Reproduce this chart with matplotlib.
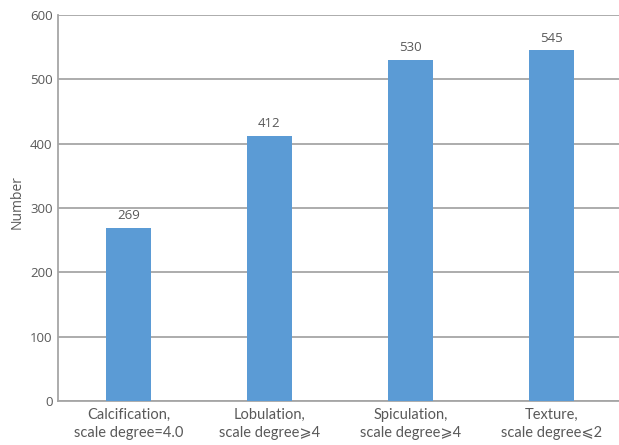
import matplotlib
matplotlib.use("Agg")
import matplotlib.pyplot as plt

categories = ["Calcification,\nscale degree=4.0",
              "Lobulation,\nscale degree\u2a7e4",
              "Spiculation,\nscale degree\u2a7e4",
              "Texture,\nscale degree\u2a7d2"]
counts = [269, 412, 530, 545]
yticks = [0, 100, 200, 300, 400, 500, 600]

W, H = 619, 445
fig = plt.figure(figsize=(W / 100, H / 100), dpi=100)
left, right, top, bottom = 58, 622, 15, 401
ax = fig.add_axes([left / W, (H - bottom) / H, (right - left) / W, (bottom - top) / H])

grid_c = "#a6a6a6"
text_c = "#595959"
fam = ["Lato", "DejaVu Sans"]
num_fam = ["Open Sans", "DejaVu Sans"]

x = list(range(len(categories)))
bars = ax.bar(x, counts, width=0.32, color="#5b9bd5", zorder=3)
ax.set_xlim(-0.5, len(categories) - 0.5)
ax.set_ylim(0, 600)
ax.set_yticks(yticks)
ax.yaxis.grid(True, color=grid_c, linewidth=1.3, zorder=0)

for b, v in zip(bars, counts):
    ax.annotate(str(v), (b.get_x() + b.get_width() / 2, v), xytext=(0, 4),
                textcoords="offset points", ha="center", va="bottom",
                fontsize=9.5, color=text_c, family=num_fam)

for s in ["top", "right"]:
    ax.spines[s].set_visible(False)
for s in ["left", "bottom"]:
    ax.spines[s].set_color(grid_c)
    ax.spines[s].set_linewidth(1.3)

ax.tick_params(axis="both", length=0)
ax.tick_params(axis="y", pad=4)
ax.tick_params(axis="x", pad=5)
ax.set_xticks(x)
ax.set_xticklabels(categories, fontsize=10.5, color=text_c, family=fam, linespacing=1.35)
for t in ax.get_yticklabels():
    t.set_fontsize(9.5)
    t.set_color(text_c)
    t.set_family(num_fam)

fig.text(17 / W, 1 - 202 / H, "Number", rotation=90, ha="center", va="center",
         fontsize=10, color=text_c, family=num_fam)

fig.savefig("out.png", dpi=100)
